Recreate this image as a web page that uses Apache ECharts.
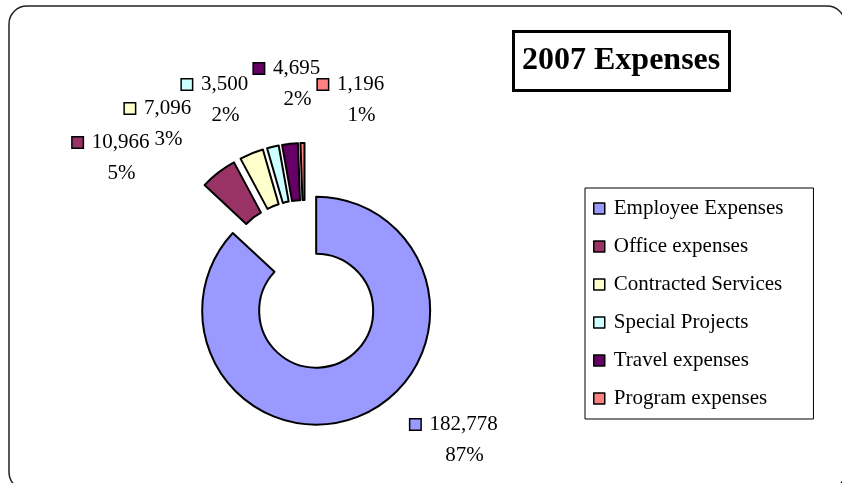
<!DOCTYPE html>
<html>
<head>
<meta charset="utf-8">
<title>2007 Expenses</title>
<script src="https://cdn.jsdelivr.net/npm/echarts@6/dist/echarts.min.js"></script>
<style>
html, body { margin: 0; padding: 0; background: #fff; }
#pieChart { width: 842px; height: 483px; }
</style>
</head>
<body>
<div id="pieChart"></div>
<script>
var byId = function(id){
	return document.getElementById(id);
};

// data
var categories = ['Employee Expenses', 'Office expenses', 'Contracted Services', 'Special Projects', 'Travel expenses', 'Program expenses'];
var amounts = [182778, 10966, 7096, 3500, 4695, 1196];
var sliceColors = ['#9999FF', '#993366', '#FFFFCC', '#CCFFFF', '#660066', '#FF8080'];
// where each data label sits (centre of the text block, pixels)
var labelSpots = [[454, 440], [111, 158], [158, 124], [215, 100], [287, 84], [351, 100]];

var serif = '"Liberation Serif", "Times New Roman", serif';
var total = amounts.reduce(function(a, b){ return a + b; }, 0);

var fmt = function(n){
	return n.toString().replace(/\B(?=(\d{3})+(?!\d))/g, ',');
};

var rich = {
	s: { width: 9 },
	g: { width: 21 },
	v: { fontSize: 21, lineHeight: 31, fontFamily: serif, color: '#000', textBorderWidth: 0 }
};
sliceColors.forEach(function(c, i){
	rich['k' + i] = { width: 10, height: 10, backgroundColor: c, borderColor: '#000', borderWidth: 1.5 };
});

var pieData = categories.map(function(name, i){
	return { name: name, value: amounts[i], selected: true };
});
// label layer: one point per slice, placed at its label spot
var labelData = amounts.map(function(v, i){
	return { value: [labelSpots[i][0], labelSpots[i][1]], amount: v, idx: i };
});

var chartOption = {
	animation: false,
	color: sliceColors,
	title: {
		text: '2007 Expenses',
		left: 513,
		top: 31,
		padding: [14, 9, 14, 9],
		borderColor: '#000',
		borderWidth: 3,
		textStyle: {
			fontFamily: serif,
			fontWeight: 'bold',
			fontSize: 32,
			lineHeight: 32,
			color: '#000'
		}
	},
	legend: {
		orient: 'vertical',
		left: 585,
		top: 188,
		padding: [10, 30, 10, 8],
		borderColor: '#000',
		borderWidth: 1,
		itemWidth: 11,
		itemHeight: 11,
		itemGap: 17,
		icon: 'rect',
		itemStyle: { borderColor: '#000', borderWidth: 1.5 },
		textStyle: {
			fontFamily: serif,
			fontSize: 21,
			lineHeight: 21,
			color: '#000',
			padding: [0, 0, 0, 4]
		},
		data: categories
	},
	grid: { left: 0, right: 0, top: 0, bottom: 0 },
	xAxis: { type: 'value', min: 0, max: 842, show: false },
	yAxis: { type: 'value', min: 0, max: 483, inverse: true, show: false },
	graphic: [{
		type: 'rect',
		silent: true,
		shape: { x: 9, y: 6, width: 836, height: 484, r: 18 },
		style: { fill: 'none', stroke: '#222', lineWidth: 1.5 }
	}],
	series: [{
		type: 'pie',
		center: [305, 285],
		radius: [57, 114],
		startAngle: 90,
		clockwise: true,
		selectedMode: 'multiple',
		selectedOffset: 28,
		itemStyle: { borderColor: '#000', borderWidth: 2 },
		emphasis: { scale: false },
		label: { show: false },
		labelLine: { show: false },
		data: pieData
	}, {
		type: 'scatter',
		silent: true,
		symbolSize: 0,
		itemStyle: { opacity: 1 },
		label: {
			show: true,
			position: 'inside',
			align: 'center',
			verticalAlign: 'middle',
			color: '#000',
			opacity: 1,
			textBorderWidth: 0,
			formatter: function(p){
				var d = p.data;
				var pct = Math.round(d.amount / total * 100);
				return '{k' + d.idx + '|}{s|}{v|' + fmt(d.amount) + '}\n{g|}{v|' + pct + '%}';
			},
			rich: rich
		},
		data: labelData
	}]
};

var pieChart = echarts.init(byId('pieChart'));
pieChart.setOption(chartOption);
</script>
</body>
</html>
